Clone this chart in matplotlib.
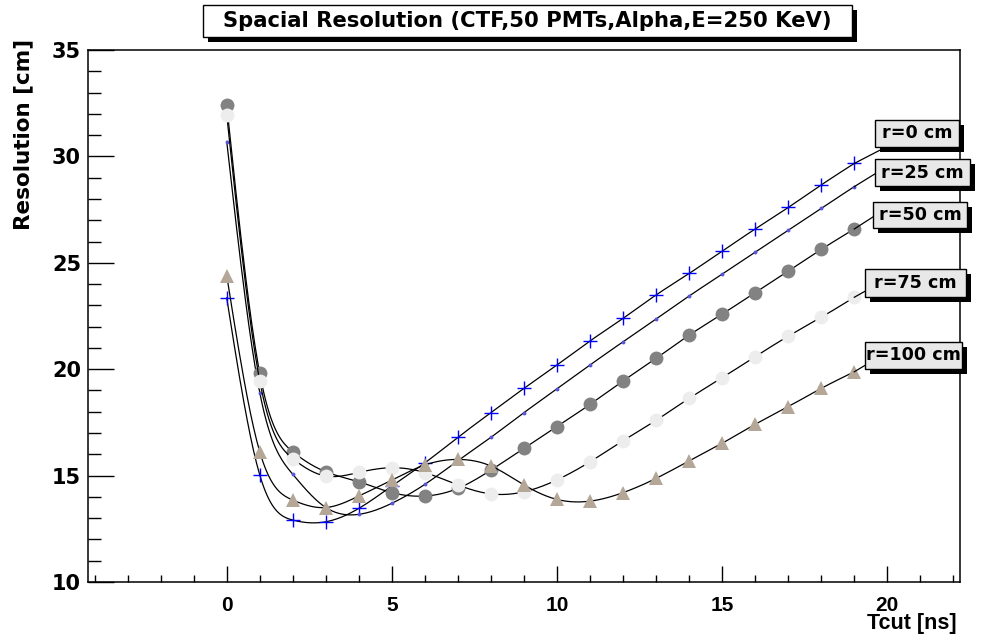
import numpy as np
import matplotlib
matplotlib.use("Agg")
import matplotlib.pyplot as plt
from matplotlib.patches import Rectangle
from matplotlib.lines import Line2D

plt.rcParams['font.family'] = ['Liberation Sans', 'DejaVu Sans']

# ---------------- data ----------------
tcut = list(range(20))
res_r0 = [23.35, 15.03, 12.91, 12.83, 13.46, 14.51, 15.60, 16.80, 17.96, 19.10,
          20.20, 21.33, 22.39, 23.49, 24.50, 25.55, 26.59, 27.60, 28.66, 29.67]
res_r25 = [30.70, 18.90, 15.06, 13.50, 13.18, 13.70, 14.59, 15.70, 16.80, 17.96,
           19.08, 20.20, 21.29, 22.36, 23.44, 24.47, 25.50, 26.53, 27.56, 28.58]
res_r50 = [32.40, 19.80, 16.12, 15.18, 14.71, 14.20, 14.04, 14.40, 15.26, 16.28,
           17.30, 18.35, 19.45, 20.51, 21.60, 22.59, 23.60, 24.61, 25.63, 26.59]
res_r75 = [31.95, 19.45, 15.80, 14.98, 15.15, 15.37, 15.14, 14.56, 14.14, 14.24,
           14.80, 15.65, 16.64, 17.60, 18.63, 19.60, 20.59, 21.55, 22.44, 23.38]
res_r100 = [24.40, 16.12, 13.85, 13.50, 14.04, 14.79, 15.50, 15.76, 15.45, 14.56,
            13.88, 13.80, 14.20, 14.87, 15.69, 16.52, 17.41, 18.24, 19.10, 19.88]
labels = ["r=0 cm", "r=25 cm", "r=50 cm", "r=75 cm", "r=100 cm"]
title = "Spacial Resolution (CTF,50 PMTs,Alpha,E=250 KeV)"
xlabel = "Tcut [ns]"
ylabel = "Resolution [cm]"
xticks = [0, 5, 10, 15, 20]
yticks = [10, 15, 20, 25, 30, 35]

series = [res_r0, res_r25, res_r50, res_r75, res_r100]

# ---------------- styles ----------------
styles = [
    dict(marker='+', ms=10, mew=1.0, mfc='#0000ff', mec='#0000ff'),
    dict(marker='o', ms=2.8, mew=0, mfc='#5555dd', mec='#5555dd'),
    dict(marker='o', ms=10, mew=0, mfc='#828282', mec='#828282'),
    dict(marker='o', ms=10, mew=0, mfc='#ededed', mec='#ededed'),
    dict(marker='^', ms=10, mew=0, mfc='#b4a797', mec='#b4a797'),
]
WIDE = 'DejaVu Sans'


def natural_spline(x, y, n=400):
    x = np.asarray(x, float)
    y = np.asarray(y, float)
    m = len(x)
    h = np.diff(x)
    A = np.zeros((m, m))
    b = np.zeros(m)
    A[0, 0] = 1
    A[-1, -1] = 1
    for i in range(1, m - 1):
        A[i, i - 1] = h[i - 1]
        A[i, i] = 2 * (h[i - 1] + h[i])
        A[i, i + 1] = h[i]
        b[i] = 3 * ((y[i + 1] - y[i]) / h[i] - (y[i] - y[i - 1]) / h[i - 1])
    c = np.linalg.solve(A, b)
    xs = np.linspace(x[0], x[-1], n)
    ys = np.empty_like(xs)
    for k, xv in enumerate(xs):
        i = min(np.searchsorted(x, xv, side='right') - 1, m - 2)
        dx = xv - x[i]
        bi = (y[i + 1] - y[i]) / h[i] - h[i] * (2 * c[i] + c[i + 1]) / 3
        di = (c[i + 1] - c[i]) / (3 * h[i])
        ys[k] = y[i] + bi * dx + c[i] * dx ** 2 + di * dx ** 3
    return xs, ys


W, H = 988, 642
fig = plt.figure(figsize=(W / 100, H / 100), dpi=100)
ax = fig.add_axes([88 / W, (H - 582) / H, (960 - 88) / W, (582 - 50) / H])

for i, (vals, st) in enumerate(zip(series, styles)):
    xs, ys = natural_spline(tcut, vals)
    ax.plot(xs, ys, color='black', lw=0.9, zorder=2 + 2 * i)
    ax.plot(tcut, vals, ls='none', zorder=3 + 2 * i, **st)

ax.set_xlim(-4.2, 22.2)
ax.set_ylim(10, 35)
ax.set_xticks(xticks)
ax.set_yticks(yticks)
ax.set_xticks(np.arange(-4, 23, 1), minor=True)
ax.set_yticks(np.arange(10, 36, 1), minor=True)
ax.tick_params(axis='both', which='both', direction='in', top=False, right=False,
               width=1.0, color='black')
ax.tick_params(axis='y', which='major', length=18.5, pad=5)
ax.tick_params(axis='y', which='minor', length=9.4)
ax.tick_params(axis='x', which='major', length=11.3, pad=10)
ax.tick_params(axis='x', which='minor', length=5.4)
for lab in ax.get_xticklabels():
    lab.set_fontsize(15)
    lab.set_fontweight('bold')
for lab in ax.get_yticklabels():
    lab.set_fontsize(15)
    lab.set_fontweight('bold')
    lab.set_family(WIDE)
for sp in ax.spines.values():
    sp.set_linewidth(1.1)

# axis titles
fig.text(957 / W, 1 - 624 / H, xlabel, ha='right', va='center', fontsize=15.5,
         fontweight='bold')
fig.text(23 / W, 1 - 39 / H, ylabel, ha='center', va='top', rotation=90,
         fontsize=15.5, fontweight='bold', family=WIDE)


def px_box(x0, y0, x1, y1, text, fill, fs, shadow=5):
    sh = Rectangle((x0 / W + shadow / W, 1 - (y1 + shadow) / H), (x1 - x0) / W,
                   (y1 - y0) / H, transform=fig.transFigure, facecolor='black',
                   edgecolor='black', lw=0, zorder=30)
    bx = Rectangle((x0 / W, 1 - y1 / H), (x1 - x0) / W, (y1 - y0) / H,
                   transform=fig.transFigure, facecolor=fill, edgecolor='black',
                   lw=1.0, zorder=31)
    fig.add_artist(sh)
    fig.add_artist(bx)
    fig.text((x0 + x1) / 2 / W, 1 - (y0 + y1) / 2 / H, text, ha='center',
             va='center', fontsize=fs, fontweight='bold', family=WIDE, zorder=32)


# title box
px_box(203, 5, 852, 37, title, 'white', 15.2)

# labels at curve ends
boxes = [(875, 120, 959, 147), (875, 159, 970, 186), (873, 202, 967, 228),
         (865, 269, 966, 297), (865, 342, 962, 369)]
ends = [(888, 146), (878, 172), (876, 215), (869, 289), (869, 363)]
for vals, lab, bxs, end in zip(series, labels, boxes, ends):
    disp = ax.transData.transform((tcut[-1], vals[-1]))
    x_start = disp[0]
    y_start = H - disp[1]
    ln = Line2D([x_start / W, end[0] / W], [1 - y_start / H, 1 - end[1] / H],
                transform=fig.transFigure, color='black', lw=0.9, zorder=29)
    fig.add_artist(ln)
    px_box(*bxs, lab, '#e8e8e8', 12.6)

fig.savefig("out.png", dpi=100)
